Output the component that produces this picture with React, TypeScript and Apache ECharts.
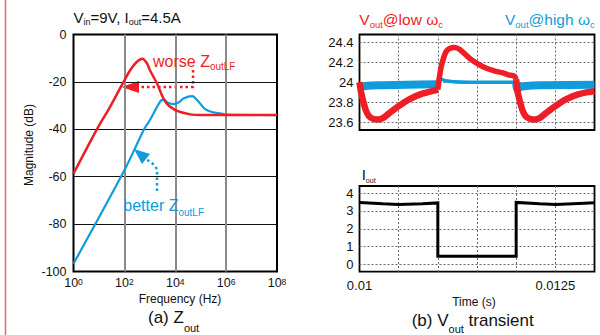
import React, { useEffect, useRef } from 'react';
import * as echarts from 'echarts';

const FONT = '"Liberation Sans", Arial, Helvetica, sans-serif';
const RED = '#ee1d26';
const BLUE = '#0e9cdb';
const INK = '#111111';

// ---------- (a) Zout magnitude ----------
const redFreqHz = [1, 8.3, 27.5, 79, 170, 310, 513, 776, 1000, 1900, 4100, 10000, 39000, 100000, 1e8];
const redMagDb = [-58.7, -40, -30.5, -21.4, -15, -11.5, -10.2, -12.2, -15, -20.6, -28.4, -31.9, -33.7, -34, -34];
const blueFreqHz = [1, 100, 617, 1000, 2000, 2800, 3500, 5000, 8500, 14000, 21000, 46000, 83000, 150000, 300000, 600000, 1e6, 1e8];
const blueMagDb = [-96.7, -57.3, -39.7, -36.2, -30.2, -27.8, -27.5, -28.7, -29.4, -28.6, -27, -26, -28.4, -31.5, -32.8, -33.3, -33.8, -34];

// ---------- (b) Vout transient ----------
const redT1 = [0.01, 0.01002, 0.01005, 0.01008, 0.01012, 0.01018, 0.01024, 0.0103, 0.01038, 0.0105, 0.01064, 0.0108, 0.01095, 0.011];
const redV1 = [24.0, 23.9, 23.8, 23.72, 23.66, 23.63, 23.625, 23.64, 23.69, 23.76, 23.83, 23.885, 23.915, 23.925];
const redT2 = [0.011, 0.01102, 0.011044, 0.01108, 0.011108, 0.01115, 0.011214, 0.01128, 0.011406, 0.0115, 0.01162, 0.01172, 0.01183, 0.0119, 0.01198, 0.012];
const redV2 = [23.925, 24.05, 24.16, 24.26, 24.31, 24.34, 24.35, 24.33, 24.24, 24.19, 24.14, 24.115, 24.094, 24.075, 24.06, 24.03];
const redT3 = [0.012, 0.01202, 0.01205, 0.01208, 0.01212, 0.01218, 0.01224, 0.0123, 0.01238, 0.0125, 0.01264, 0.0128, 0.01295, 0.013];
const redV3 = [24.03, 23.9, 23.8, 23.72, 23.66, 23.63, 23.625, 23.64, 23.69, 23.76, 23.83, 23.88, 23.905, 23.91];

const blueT1 = [0.01, 0.01003, 0.0101, 0.0103, 0.0106, 0.011];
const blueV1 = [23.96, 23.955, 23.965, 23.97, 23.975, 23.98];
const blueT2 = [0.011, 0.01101, 0.01105, 0.0111, 0.0112, 0.0114, 0.012];
const blueV2 = [23.98, 24.045, 24.03, 24.015, 24.005, 24.0, 24.0];
const blueT3 = [0.012, 0.01201, 0.01205, 0.0121, 0.0123, 0.013];
const blueV3 = [24.0, 23.93, 23.95, 23.96, 23.97, 23.975];

const ioutT = [0.01, 0.0103, 0.0105, 0.0108, 0.011, 0.011, 0.012, 0.012, 0.0123, 0.0125, 0.0128, 0.013];
const ioutA = [3.48, 3.4, 3.37, 3.4, 3.45, 0.46, 0.46, 3.48, 3.4, 3.37, 3.42, 3.46];

const vTicks = [23.6, 23.8, 24, 24.2, 24.4];
const iTicks = [0, 1, 2, 3, 4];
const timeLabels = [0.01, 0.0125];

const pairs = (xs: number[], ys: number[]) => xs.map((x, i) => [x, ys[i]]);
const logPairs = (fs: number[], ys: number[]) => fs.map((f, i) => [Math.log10(f), ys[i]]);

const rich = (fs: number, sub: number, L: number, color: string) => ({
  m: { fontSize: fs, fontFamily: FONT, color, lineHeight: L, verticalAlign: 'top' },
  s: { fontSize: sub, fontFamily: FONT, color, verticalAlign: 'bottom' },
});

const mkTitle = (text: string, left: number, top: number, r: any) => ({
  text,
  left,
  top,
  padding: 0,
  textStyle: { fontFamily: FONT, fontWeight: 'normal', rich: r },
});

export default function App() {
  const ref = useRef<HTMLDivElement>(null);
  useEffect(() => {
    if (!ref.current) return;
    const chart = echarts.init(ref.current, undefined, { renderer: 'svg' });
    const dotted = { color: '#6a6a6a', width: 1, type: [2, 2] as any };
    const gridLineMark = (vals: number[]) => ({
      silent: true,
      z: 1,
      symbol: ['none', 'none'],
      label: { show: false },
      lineStyle: dotted,
      emphasis: { disabled: true },
      data: vals.map((v) => ({ yAxis: v })),
    });
    const option: any = {
      animation: false,
      backgroundColor: '#ffffff',
      title: [
        mkTitle('{m|V}{s|in}{m|=9V, I}{s|out}{m|=4.5A}', 73.5, 10, rich(15, 9, 16.2, INK)),
        mkTitle('{m|V}{s|out}{m|@low ω}{s|c}', 359.3, 11, rich(15.5, 9.5, 18.6, RED)),
        mkTitle('{m|V}{s|out}{m|@high ω}{s|c}', 505, 11, rich(15.5, 9.5, 18.6, BLUE)),
        mkTitle('{m|worse Z}{s|outLF}', 153, 53.1, rich(16, 10, 18.6, RED)),
        mkTitle('{m|better Z}{s|outLF}', 123.3, 197.4, rich(16, 10, 20.5, BLUE)),
        mkTitle('{m|I}{s|out}', 361.7, 167.2, rich(15, 7, 16.5, INK)),
        mkTitle('{m|(a) Z}{s|out}', 148, 308.5, rich(17, 11, 25, INK)),
        mkTitle('{m|(b) V}{s|out}{m| transient}', 411.7, 311.5, rich(17, 11, 22.5, INK)),
      ],
      grid: [
        { left: 73.5, top: 34.5, width: 203.5, height: 237, show: true, borderColor: '#000', borderWidth: 2, backgroundColor: 'transparent', outerBoundsMode: 'none' },
        { left: 359.5, top: 34.5, width: 235, height: 95.5, show: true, borderColor: '#000', borderWidth: 1.8, backgroundColor: 'transparent', outerBoundsMode: 'none' },
        { left: 359.5, top: 186, width: 235, height: 85.7, show: true, borderColor: '#000', borderWidth: 1.8, backgroundColor: 'transparent', outerBoundsMode: 'none' },
      ],
      xAxis: [
        {
          gridIndex: 0, type: 'value', min: 0, max: 8, interval: 2,
          axisLine: { show: false }, axisTick: { show: false },
          splitLine: { show: true, showMinLine: false, showMaxLine: false, lineStyle: { color: '#8a8a8a', width: 2 } },
          axisLabel: {
            margin: 6,
            formatter: (v: number) => `{b|10}{s|${Math.round(v)}}`,
            rich: {
              b: { fontSize: 12.5, fontFamily: FONT, color: INK, lineHeight: 12, verticalAlign: 'bottom' },
              s: { fontSize: 8.5, fontFamily: FONT, color: INK, verticalAlign: 'top' },
            },
          },
        },
        {
          gridIndex: 1, type: 'value', min: 0.01, max: 0.013, interval: 0.0005,
          axisLine: { show: false }, axisTick: { show: false }, axisLabel: { show: false },
          splitLine: { show: true, showMinLine: false, showMaxLine: false, lineStyle: dotted },
        },
        {
          gridIndex: 2, type: 'value', min: 0.01, max: 0.013, interval: 0.0005,
          axisLine: { show: false }, axisTick: { show: false },
          splitLine: { show: true, showMinLine: false, showMaxLine: false, lineStyle: dotted },
          axisLabel: {
            margin: 7, fontSize: 13, fontFamily: FONT, color: INK, showMinLabel: true, showMaxLabel: true,
            formatter: (v: number) => {
              const hit = timeLabels.find((t) => Math.abs(t - v) < 1e-9);
              return hit !== undefined ? String(hit) : '';
            },
          },
        },
      ],
      yAxis: [
        {
          gridIndex: 0, type: 'value', min: -100, max: 0, interval: 20,
          axisLine: { show: false }, axisTick: { show: false },
          splitLine: { show: true, showMinLine: false, showMaxLine: false, lineStyle: { color: '#111', width: 1.2 } },
          axisLabel: { margin: 7, fontSize: 12.5, fontFamily: FONT, color: INK },
        },
        {
          gridIndex: 1, type: 'value', min: 23.52, max: 24.48, interval: 0.04,
          axisLine: { show: false }, axisTick: { show: false }, splitLine: { show: false },
          axisLabel: {
            margin: 6, fontSize: 13, fontFamily: FONT, color: INK,
            formatter: (v: number) => {
              const hit = vTicks.find((t) => Math.abs(t - v) < 1e-6);
              return hit !== undefined ? String(hit) : '';
            },
          },
        },
        {
          gridIndex: 2, type: 'value', min: -0.4, max: 4.4, interval: 0.2,
          axisLine: { show: false }, axisTick: { show: false }, splitLine: { show: false },
          axisLabel: {
            margin: 6, fontSize: 13, fontFamily: FONT, color: INK,
            formatter: (v: number) => {
              const hit = iTicks.find((t) => Math.abs(t - v) < 1e-6);
              return hit !== undefined ? String(hit) : '';
            },
          },
        },
      ],
      series: [
        { type: 'line', xAxisIndex: 0, yAxisIndex: 0, data: logPairs(blueFreqHz, blueMagDb), showSymbol: false, smooth: 0.3, lineStyle: { color: BLUE, width: 2.2 }, z: 3 },
        { type: 'line', xAxisIndex: 0, yAxisIndex: 0, data: logPairs(redFreqHz, redMagDb), showSymbol: false, smooth: 0.3, lineStyle: { color: RED, width: 2.5 }, z: 4 },

        { type: 'line', xAxisIndex: 1, yAxisIndex: 1, data: [], showSymbol: false, markLine: gridLineMark(vTicks), z: 1 },
        { type: 'line', xAxisIndex: 1, yAxisIndex: 1, data: pairs(blueT1, blueV1), showSymbol: false, smooth: 0.3, lineStyle: { color: BLUE, width: 8 }, z: 3 },
        { type: 'line', xAxisIndex: 1, yAxisIndex: 1, data: pairs(blueT2, blueV2), showSymbol: false, smooth: 0.3, lineStyle: { color: BLUE, width: 3.5 }, z: 3 },
        { type: 'line', xAxisIndex: 1, yAxisIndex: 1, data: pairs(blueT3, blueV3), showSymbol: false, smooth: 0.3, lineStyle: { color: BLUE, width: 8 }, z: 3 },
        { type: 'line', xAxisIndex: 1, yAxisIndex: 1, data: pairs(redT1, redV1), showSymbol: false, smooth: 0.3, lineStyle: { color: RED, width: 6.5 }, z: 4 },
        { type: 'line', xAxisIndex: 1, yAxisIndex: 1, data: pairs(redT2, redV2), showSymbol: false, smooth: 0.3, lineStyle: { color: RED, width: 5.5 }, z: 4 },
        { type: 'line', xAxisIndex: 1, yAxisIndex: 1, data: pairs(redT3, redV3), showSymbol: false, smooth: 0.3, lineStyle: { color: RED, width: 6.5 }, z: 4 },

        { type: 'line', xAxisIndex: 2, yAxisIndex: 2, data: [], showSymbol: false, markLine: gridLineMark(iTicks), z: 1 },
        { type: 'line', xAxisIndex: 2, yAxisIndex: 2, data: pairs(ioutT, ioutA), showSymbol: false, lineStyle: { color: '#000', width: 3, join: 'miter' }, z: 3 },
      ],
      graphic: [
        { type: 'line', silent: true, shape: { x1: 5.5, y1: 0, x2: 5.5, y2: 335 }, style: { stroke: '#e8646e', lineWidth: 1.5 } },
        { type: 'polyline', silent: true, shape: { points: [[193, 70], [193, 87], [139, 87]] }, style: { stroke: RED, lineWidth: 2.5, lineDash: [2.5, 3] } },
        { type: 'polygon', silent: true, shape: { points: [[121.5, 87], [139, 81], [139, 93]] }, style: { fill: RED } },
        { type: 'polyline', silent: true, shape: { points: [[157, 191], [157, 169], [153, 164], [146, 159]] }, style: { stroke: BLUE, lineWidth: 2.5, lineDash: [2.5, 3] } },
        { type: 'polygon', silent: true, shape: { points: [[134, 149], [150, 154], [142, 164]] }, style: { fill: BLUE } },
        { type: 'text', silent: true, x: 28.5, y: 145, rotation: Math.PI / 2, style: { text: 'Magnitude (dB)', font: `12px ${FONT}`, fill: INK, textAlign: 'center', textVerticalAlign: 'middle', align: 'center', verticalAlign: 'middle' } },
        { type: 'text', silent: true, x: 180, y: 299, style: { text: 'Frequency (Hz)', font: `12px ${FONT}`, fill: INK, textAlign: 'center', textVerticalAlign: 'middle', align: 'center', verticalAlign: 'middle' } },
        { type: 'text', silent: true, x: 474, y: 302, style: { text: 'Time (s)', font: `12px ${FONT}`, fill: INK, textAlign: 'center', textVerticalAlign: 'middle', align: 'center', verticalAlign: 'middle' } },
      ],
    };
    chart.setOption(option);
    return () => chart.dispose();
  }, []);
  return <div ref={ref} style={{ position: 'fixed', left: 0, top: 0, width: 600, height: 335, background: '#fff' }} />;
}
